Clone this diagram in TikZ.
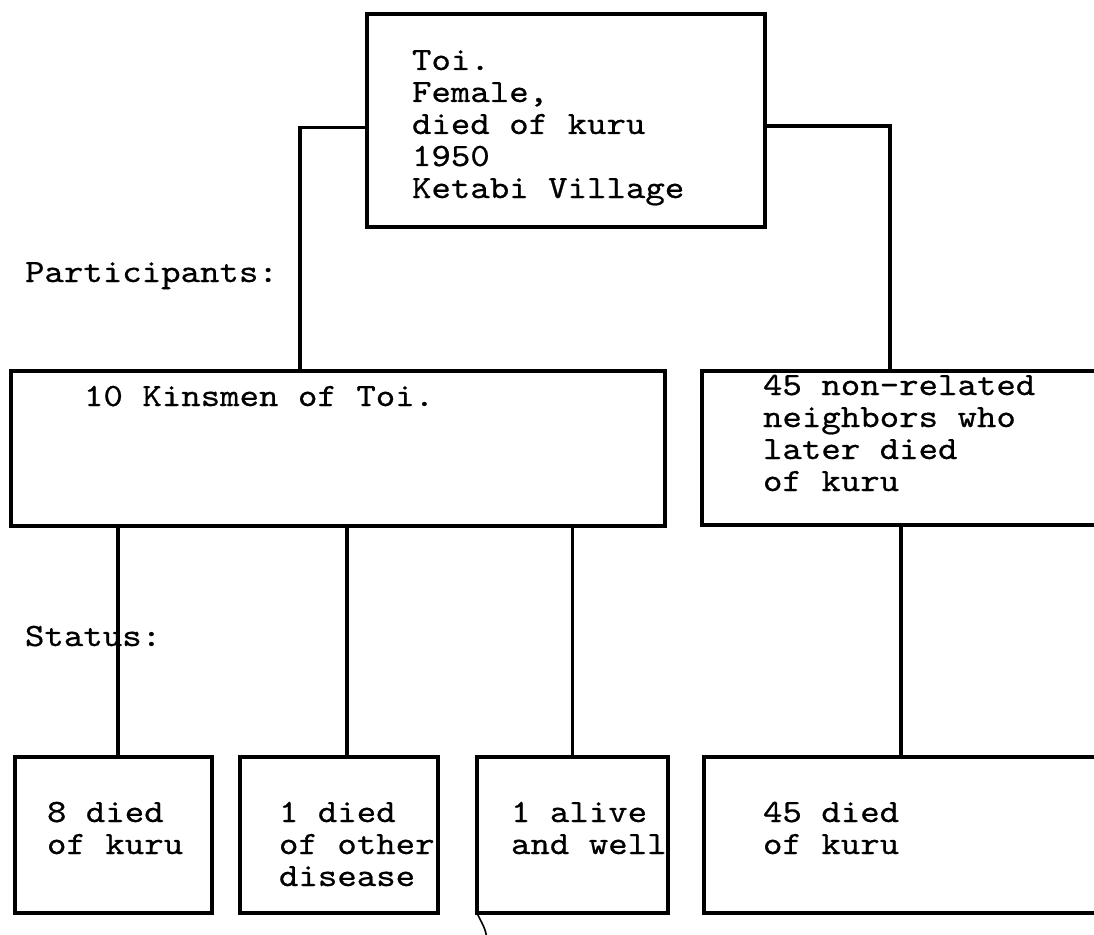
\documentclass[tikz,border=0pt]{standalone}
\usepackage{fontspec}
\setmonofont{lmmono10-regular.otf}[FakeStretch=1.14,FakeBold=0.6]
\usetikzlibrary{calc}
\newcommand\tlines[1]{\begin{tabular}[t]{@{}l@{}}#1\end{tabular}}
\tikzset{
  box/.style={draw, rectangle, line width=3.5pt, inner sep=0pt, outer sep=0pt, anchor=north west},
  conn/.style={line width=3.5pt},
  txt/.style={anchor=base west, inner sep=0pt, outer sep=0pt,
    font=\fontsize{32.5}{32}\selectfont\ttfamily},
}
\begin{document}
\begin{tikzpicture}[x=1pt,y=-1pt]
\useasboundingbox (0,0) rectangle (1094,934);
\fill[white] (0,0) rectangle (1094,934);
\clip (0,0) rectangle (1094,934);
% boxes
\node[box, minimum width=398pt, minimum height=213pt] (top) at (367,14) {};
\node[box, minimum width=654pt, minimum height=155pt] (kin) at (11,371) {};
\node[box, minimum width=420pt, minimum height=154pt] (nr) at (702,371) {};
\node[box, minimum width=197pt, minimum height=156pt] (b1) at (15,757) {};
\node[box, minimum width=198pt, minimum height=156pt] (b2) at (240,757) {};
\node[box, minimum width=191pt, minimum height=156pt] (b3) at (477,757) {};
\node[box, minimum width=420pt, minimum height=156pt] (b4) at (704,757) {};
% texts
\node[txt] (ttop) at (412,70) {\tlines{Toi.\\Female,\\died of kuru\\1950\\Ketabi Village}};
\node[txt] (tkin) at (84,406) {10 Kinsmen of Toi.};
\node[txt] (tnr) at (763,395) {\tlines{45 non-related\\neighbors who\\later died\\of kuru}};
\node[txt] (t1) at (47,822) {\tlines{8 died\\of kuru}};
\node[txt] (t2) at (279,822) {\tlines{1 died\\of other\\disease}};
\node[txt] (t3) at (511,822) {\tlines{1 alive\\and well}};
\node[txt] (t4) at (763,822) {\tlines{45 died\\of kuru}};
\node[txt] (part) at (25,282) {Participants:};
\node[txt] (stat) at (25,646) {Status:};
% connectors
\draw[conn] ([yshift=-7pt]top.west) -| ($(kin.north west)+(289,0)$);
\draw[conn] ([yshift=-5.5pt]top.east) -| ($(nr.north west)+(188,0)$);
\coordinate (k1) at ([xshift=4.5pt]b1.north);
\coordinate (k2) at ([xshift=8pt]b2.north);
\coordinate (k3) at (b3.north);
\coordinate (k4) at ([xshift=-13pt]b4.north);
\draw[conn] (k1) -- (k1 |- kin.south);
\draw[conn] (k2) -- (k2 |- kin.south);
\draw[conn] (k3) -- (k3 |- kin.south);
\draw[conn] (k4) -- (k4 |- nr.south);
% small stray stroke below third box
\coordinate (tail) at (487,940);
\draw[line width=1.6pt] (b3.south west) .. controls (481,922) and (486,928) .. (tail);
\end{tikzpicture}
\end{document}
